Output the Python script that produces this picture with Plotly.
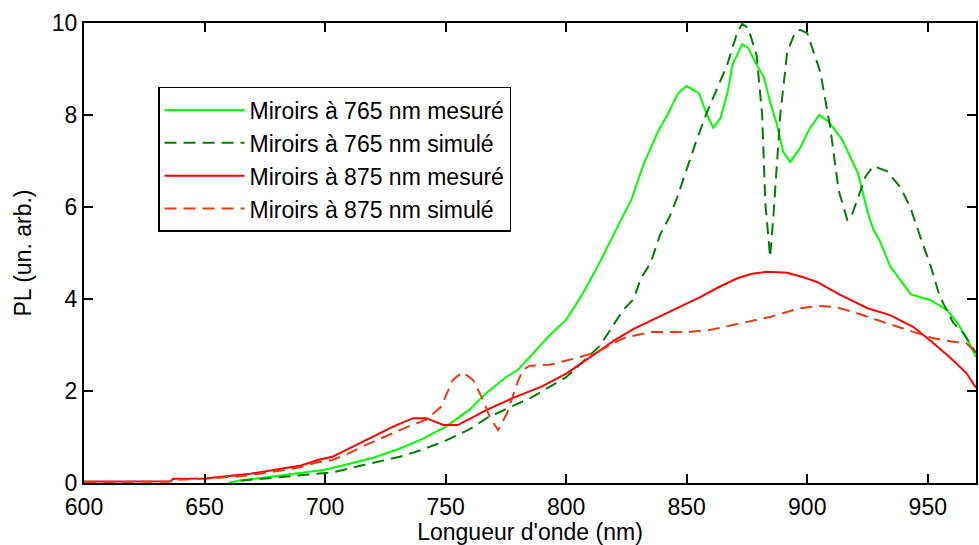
import plotly.graph_objects as go

# Miroirs à 765 nm mesuré
gm_x = [660, 665, 675, 683, 690, 700, 708, 720, 731, 740, 750, 760, 767, 775, 780, 786, 793, 800, 806, 813, 819.5, 824, 827, 832, 838, 842, 846.5, 850, 855, 858.5, 861, 864, 867, 869, 873, 875.5, 879, 882, 884.6, 887.5, 890, 893, 897, 901, 905, 909, 914.5, 921, 925, 927.5, 930, 934.5, 936, 943, 951, 958, 962, 966, 970]
gm_y = [0.0, 0.06, 0.12, 0.17, 0.22, 0.29, 0.39, 0.55, 0.75, 0.95, 1.22, 1.6, 1.96, 2.3, 2.46, 2.8, 3.2, 3.55, 4.04, 4.7, 5.4, 5.85, 6.15, 6.91, 7.63, 8.0, 8.48, 8.63, 8.48, 8.0, 7.72, 7.93, 8.5, 9.09, 9.54, 9.46, 9.09, 8.83, 8.28, 7.78, 7.2, 6.98, 7.28, 7.7, 8.0, 7.85, 7.46, 6.74, 5.9, 5.5, 5.28, 4.7, 4.6, 4.1, 3.98, 3.76, 3.5, 3.17, 2.74]

# Miroirs à 765 nm simulé
gs_x = [665, 675, 690, 703, 715, 731, 740, 750, 760, 767, 776, 786, 800, 811, 814, 823.6, 828, 831, 835, 839, 843, 846, 848.5, 854.4, 858.5, 862.7, 866.8, 871, 873, 875.5, 879, 881.3, 882.6, 884.6, 886, 888.8, 891.7, 895, 897, 900, 902.5, 905.4, 909.5, 913, 916.6, 918, 920.7, 924, 927.4, 933, 938.6, 942.7, 946.9, 951, 955, 960.6, 964.7, 970]
gs_y = [0.05, 0.1, 0.17, 0.23, 0.38, 0.57, 0.72, 0.92, 1.17, 1.41, 1.63, 1.87, 2.3, 2.83, 2.98, 3.76, 4.0, 4.45, 4.78, 5.4, 5.8, 6.2, 6.6, 7.5, 8.07, 8.59, 9.09, 9.8, 9.98, 9.89, 9.3, 8.0, 6.1, 4.91, 5.83, 8.0, 9.37, 9.8, 9.85, 9.78, 9.4, 8.94, 7.74, 6.37, 5.72, 5.75, 6.15, 6.65, 6.89, 6.78, 6.43, 6.0, 5.35, 4.75, 4.05, 3.48, 3.26, 2.83]

# Miroirs à 875 nm mesuré
rm_x = [600, 636, 637, 650, 660, 669, 683, 690, 697, 703, 708, 717, 728, 736.5, 742, 749, 755, 761, 767, 778, 790, 800.4, 814, 820, 828, 840, 847, 855.6, 863, 871, 877, 883.4, 891.7, 898, 904, 913.7, 925, 934.4, 944, 951, 959, 966, 970]
rm_y = [0.03, 0.04, 0.09, 0.1, 0.15, 0.2, 0.32, 0.38, 0.5, 0.57, 0.7, 0.93, 1.22, 1.41, 1.41, 1.26, 1.26, 1.42, 1.59, 1.85, 2.1, 2.39, 2.89, 3.1, 3.35, 3.65, 3.83, 4.04, 4.25, 4.45, 4.55, 4.59, 4.57, 4.48, 4.37, 4.09, 3.8, 3.65, 3.39, 3.1, 2.74, 2.39, 2.07]

# Miroirs à 875 nm simulé
rs_x = [600, 636, 637, 650, 660, 669, 683, 690, 697, 703, 710, 717, 731, 742, 748, 753, 757, 761.4, 765.6, 768.5, 771.8, 775.5, 779.7, 782, 785, 793, 803, 813, 822, 825, 835, 850, 860, 869, 884.6, 897, 905.4, 912, 919, 931.5, 944, 952, 960.6, 966, 970]
rs_y = [0.02, 0.03, 0.07, 0.09, 0.13, 0.17, 0.28, 0.35, 0.45, 0.5, 0.65, 0.83, 1.15, 1.38, 1.65, 2.24, 2.41, 2.24, 1.8, 1.41, 1.15, 1.52, 2.17, 2.46, 2.55, 2.57, 2.7, 2.85, 3.1, 3.17, 3.28, 3.28, 3.33, 3.43, 3.61, 3.8, 3.85, 3.82, 3.72, 3.5, 3.28, 3.15, 3.07, 3.04, 2.83]

names = ["Miroirs à 765 nm mesuré", "Miroirs à 765 nm simulé",
         "Miroirs à 875 nm mesuré", "Miroirs à 875 nm simulé"]
x_ticks = [600, 650, 700, 750, 800, 850, 900, 950]
y_ticks = [0, 2, 4, 6, 8, 10]

FONT = "Liberation Sans, Arial, Helvetica, sans-serif"
FS = 23
DASH = "12px,7px"

fig = go.Figure()
fig.add_trace(go.Scatter(x=gm_x, y=gm_y, mode="lines", name=names[0],
                         line=dict(color="#00FF00", width=2)))
fig.add_trace(go.Scatter(x=gs_x, y=gs_y, mode="lines", name=names[1],
                         line=dict(color="#007F00", width=2, dash=DASH)))
fig.add_trace(go.Scatter(x=rm_x, y=rm_y, mode="lines", name=names[2],
                         line=dict(color="#FF0000", width=2)))
fig.add_trace(go.Scatter(x=rs_x, y=rs_y, mode="lines", name=names[3],
                         line=dict(color="#E63C14", width=2, dash=DASH)))

axis_common = dict(showline=True, linecolor="black", linewidth=2, mirror="allticks",
                   ticks="inside", ticklen=9, tickwidth=1.5, tickcolor="black",
                   showgrid=False, zeroline=False,
                   tickfont=dict(family=FONT, size=FS, color="black"))

fig.update_xaxes(range=[600, 970], tickvals=x_ticks, ticktext=[str(v) for v in x_ticks],
                 ticklabelstandoff=2,
                 title=dict(text="Longueur d'onde (nm)", font=dict(family=FONT, size=FS, color="black"), standoff=6),
                 **axis_common)
fig.update_yaxes(range=[0, 10], tickvals=y_ticks, ticktext=[str(v) for v in y_ticks],
                 title=dict(text="PL (un. arb.)", font=dict(family=FONT, size=FS, color="black"), standoff=14),
                 **axis_common)

fig.update_layout(
    width=979, height=545,
    margin=dict(l=84, r=1, t=23, b=62),
    paper_bgcolor="white", plot_bgcolor="white",
    font=dict(family=FONT, size=FS, color="black"),
    legend=dict(x=0.083, y=0.861, xanchor="left", yanchor="top",
                bgcolor="white", bordercolor="black", borderwidth=1.5,
                font=dict(family=FONT, size=FS, color="black"),
                itemwidth=80, tracegroupgap=0),
    showlegend=True,
)

fig.write_html("out.html")
